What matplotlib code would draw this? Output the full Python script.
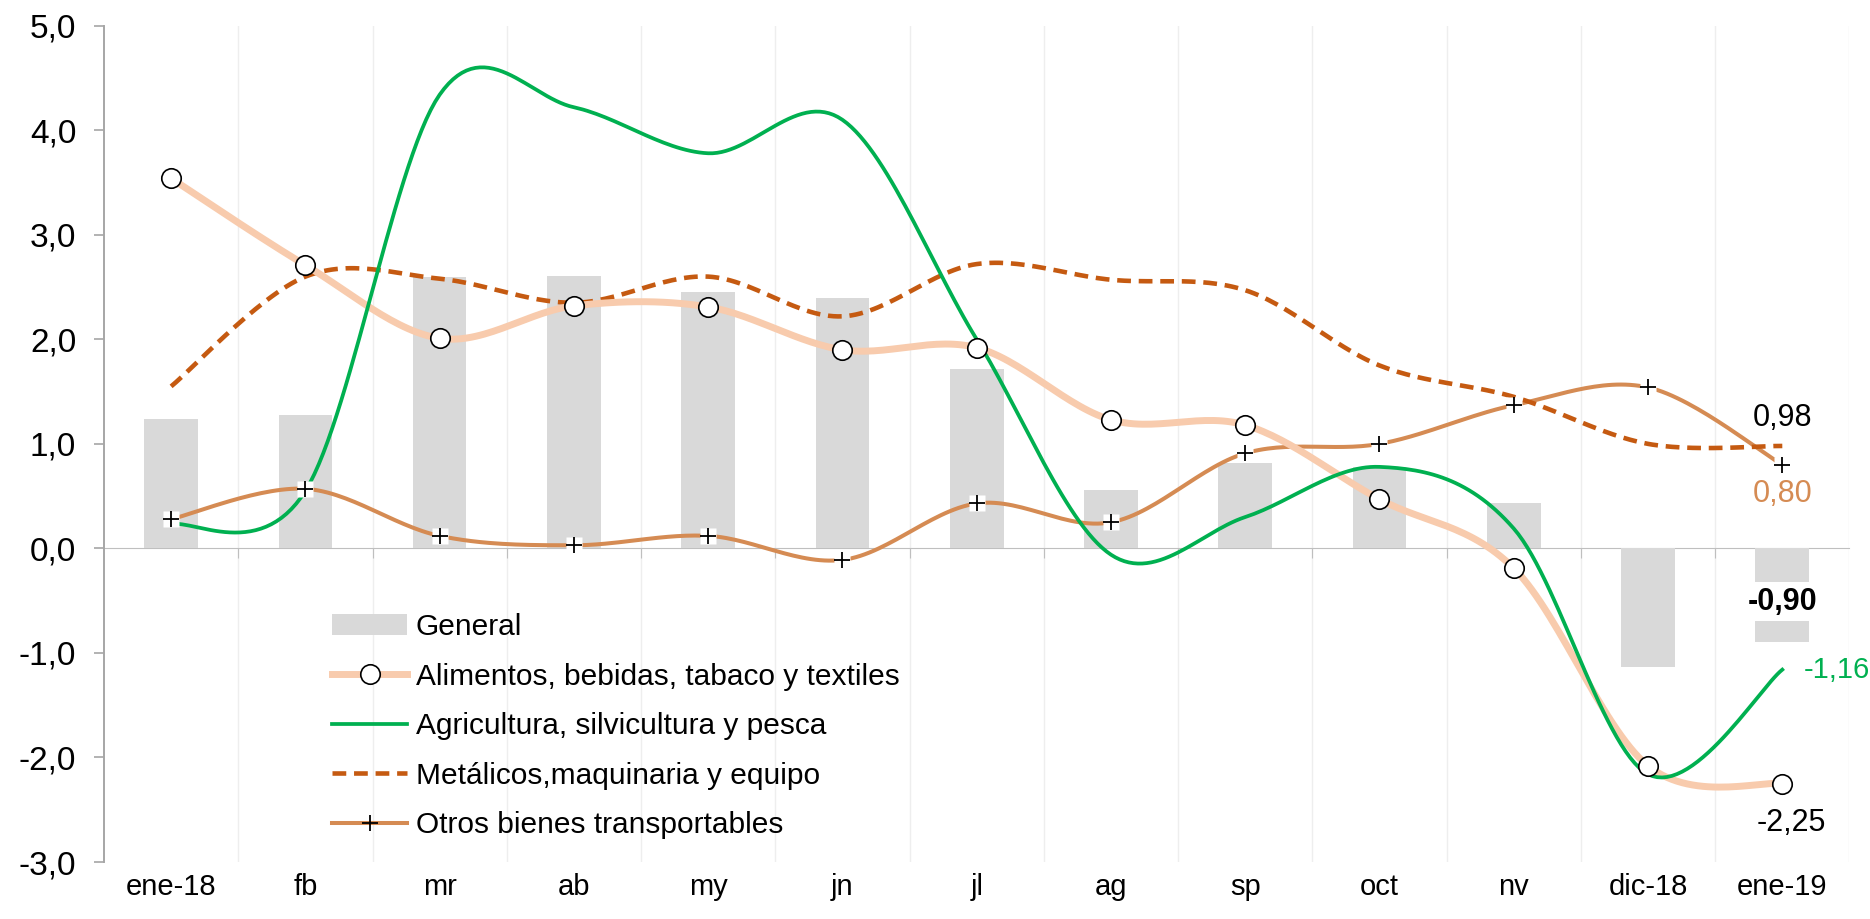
import numpy as np
import matplotlib
matplotlib.use('Agg')
import matplotlib.pyplot as plt
from matplotlib.lines import Line2D
from matplotlib.patches import Patch
from matplotlib.ticker import FuncFormatter

meses = ['ene-18', 'fb', 'mr', 'ab', 'my', 'jn', 'jl', 'ag', 'sp', 'oct', 'nv', 'dic-18', 'ene-19']

general = [1.24, 1.28, 2.60, 2.61, 2.45, 2.40, 1.72, 0.56, 0.82, 0.78, 0.43, -1.13, -0.90]
alimentos = [3.54, 2.71, 2.01, 2.32, 2.31, 1.90, 1.92, 1.23, 1.18, 0.47, -0.19, -2.08, -2.25]
agricultura = [0.23, 0.55, 4.34, 4.22, 3.78, 4.10, 2.00, -0.06, 0.30, 0.78, 0.19, -2.16, -1.16]
metalicos = [1.55, 2.60, 2.58, 2.35, 2.60, 2.22, 2.72, 2.57, 2.47, 1.75, 1.45, 1.00, 0.98]
otros = [0.28, 0.57, 0.12, 0.03, 0.12, -0.11, 0.43, 0.25, 0.91, 1.00, 1.37, 1.54, 0.80]

C_BAR = '#D9D9D9'
C_ALIM = '#F8CBAD'
C_AGRI = '#00B050'
C_MET = '#C55A11'
C_OTROS = '#D58B53'

plt.rcParams['font.family'] = ['Liberation Sans', 'DejaVu Sans']


def smooth(y, n=30):
    # catmull-rom through the points, like the smoothed lines of a spreadsheet
    x = np.arange(len(y), dtype=float)
    y = np.asarray(y, dtype=float)
    px = np.concatenate([[x[0]], x, [x[-1]]])
    py = np.concatenate([[y[0]], y, [y[-1]]])
    xs, ys = [], []
    t = np.linspace(0, 1, n, endpoint=False)
    for i in range(1, len(px) - 2):
        for p, out in ((px, xs), (py, ys)):
            p0, p1, p2, p3 = p[i - 1], p[i], p[i + 1], p[i + 2]
            out.extend(0.5 * ((2 * p1) + (-p0 + p2) * t
                              + (2 * p0 - 5 * p1 + 4 * p2 - p3) * t ** 2
                              + (-p0 + 3 * p1 - 3 * p2 + p3) * t ** 3))
    xs.append(x[-1])
    ys.append(y[-1])
    return np.array(xs), np.array(ys)


fig = plt.figure(figsize=(18.7, 9.19), dpi=100)
ax = fig.add_axes([0.0556, 0.062, 0.9334, 0.910])

x = np.arange(len(meses))
ax.bar(x, general, width=0.4, color=C_BAR, zorder=2)

sx, sy = smooth(otros)
ax.plot(sx, sy, color=C_OTROS, lw=2.9, zorder=3)
sx, sy = smooth(metalicos)
ax.plot(sx, sy, color=C_MET, lw=3.3, dashes=(3, 1.7), zorder=4)
sx, sy = smooth(alimentos)
ax.plot(sx, sy, color=C_ALIM, lw=5, solid_capstyle='round', zorder=5)
sx, sy = smooth(agricultura)
ax.plot(sx, sy, color=C_AGRI, lw=2.7, zorder=6)

ax.plot(x, alimentos, 'o', ms=14, mfc='white', mec='black', mew=1.2, zorder=7)
ax.plot(x, otros, 's', ms=11, mfc='white', mec='none', zorder=7)
ax.plot(x, otros, '+', ms=12, color='black', mew=1.3, zorder=8)

ax.set_xlim(-0.5, len(meses) - 0.5)
ax.set_ylim(-3, 5)

# grid between months
for b in np.arange(0.5, len(meses), 1):
    ax.axvline(b, color='#EEEEEE', lw=1, zorder=0)

ax.yaxis.set_major_formatter(FuncFormatter(lambda v, p: f'{v:.1f}'.replace('.', ',')))
ax.set_yticks(np.arange(-3, 6, 1))
ax.tick_params(axis='y', labelsize=24, length=7, color='#A6A6A6', width=1.2, pad=13)
for s in ['top', 'right', 'bottom']:
    ax.spines[s].set_visible(False)
ax.spines['left'].set_color('#A6A6A6')
ax.spines['left'].set_linewidth(1.4)

ax.set_xticks(x)
ax.set_xticklabels(meses)
ax.tick_params(axis='x', length=0, labelsize=21, pad=8)

# zero axis with ticks between months
zero = ax.secondary_xaxis(3 / 8)
zero.set_xticks(np.arange(0.5, len(meses) - 0.5, 1))
zero.set_xticklabels([])
zero.tick_params(axis='x', length=7, color='#BFBFBF', direction='out')
zero.spines['bottom'].set_color('#BFBFBF')
zero.spines['bottom'].set_linestyle((0, (1, 1)))

ult = len(meses) - 1
fmt = lambda v: f'{v:.2f}'.replace('.', ',')
ax.text(ult, metalicos[-1] + 0.27, fmt(metalicos[-1]),
        ha='center', va='center', fontsize=22, color='black', zorder=9)
ax.text(ult, otros[-1] - 0.28, fmt(otros[-1]),
        ha='center', va='center', fontsize=22, color=C_OTROS, zorder=9)
ax.text(ult, -0.51, fmt(general[-1]), ha='center', va='center',
        fontsize=22, fontweight='bold', color='black', zorder=9,
        bbox=dict(facecolor='white', edgecolor='none', pad=3))
ax.text(ult + 0.16, agricultura[-1], fmt(agricultura[-1]),
        ha='left', va='center', fontsize=21, color=C_AGRI, zorder=9, clip_on=False)
ax.text(ult + 0.07, alimentos[-1] - 0.38, fmt(alimentos[-1]),
        ha='center', va='center', fontsize=22, color='black', zorder=9)

handles = [
    Patch(facecolor=C_BAR, edgecolor='none'),
    Line2D([], [], color=C_ALIM, lw=5, marker='o', ms=14, mfc='white', mec='black', mew=1.2),
    Line2D([], [], color=C_AGRI, lw=2.7),
    Line2D([], [], color=C_MET, lw=3.3, dashes=(3, 1.7)),
    Line2D([], [], color=C_OTROS, lw=2.9, marker='+', ms=12, mec='black', mew=1.3),
]
labels = ['General', 'Alimentos, bebidas, tabaco y textiles', 'Agricultura, silvicultura y pesca',
          'Metálicos,maquinaria y equipo', 'Otros bienes transportables']
ax.legend(handles, labels, loc='upper left', bbox_to_anchor=(0.124, 0.312), frameon=False,
          fontsize=21.5, handlelength=2.5, handletextpad=0.3, labelspacing=0.72,
          borderaxespad=0, numpoints=1)

fig.savefig('out.png', dpi=100)
